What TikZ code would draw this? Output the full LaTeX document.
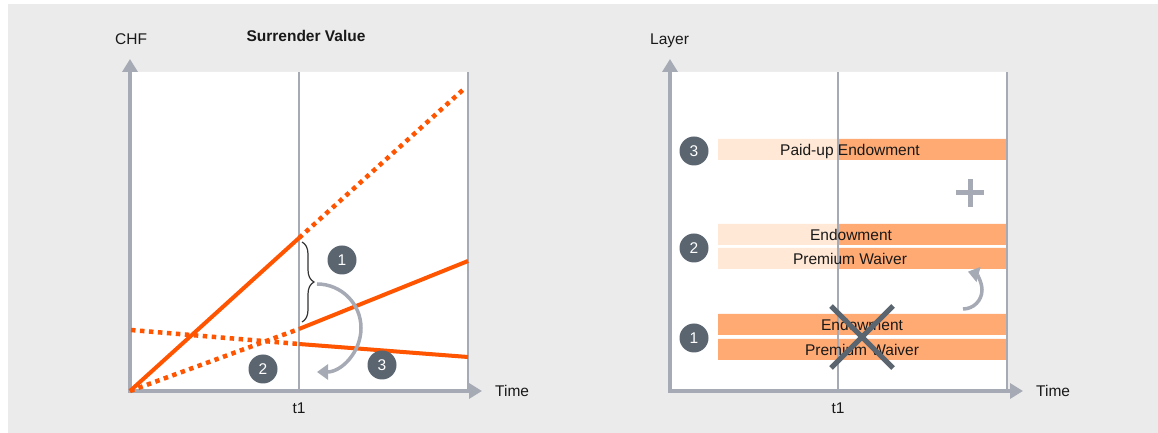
\documentclass[tikz,border=0pt]{standalone}
\usepackage{fontspec}
\setmainfont{Liberation Sans}
\usetikzlibrary{arrows.meta,decorations.pathreplacing}

\definecolor{panelgray}{HTML}{EBEBEB}
\definecolor{axisgray}{HTML}{A6AAB4}
\definecolor{svorange}{HTML}{FF5400}
\definecolor{layerdark}{HTML}{FFAA72}
\definecolor{layerlight}{HTML}{FFE8D6}
\definecolor{markgray}{HTML}{5A6570}

\tikzset{
  axis/.style={axisgray,line width=4pt,{Triangle[width=15pt,length=13pt]}-{Triangle[width=15pt,length=13pt]}},
  gridline/.style={axisgray,line width=1.6pt},
  sv/.style={svorange,line width=4pt},
  svdots/.style={svorange,line width=4.5pt,dash pattern=on 4.5pt off 4.5pt},
  num/.style={circle,fill=markgray,text=white,minimum size=29pt,inner sep=0pt},
  turn/.style={axisgray,line width=3.5pt,-{Triangle[width=15pt,length=11pt]}},
  lbl/.style={anchor=base,inner sep=0pt,text=black!90},
}

\begin{document}
\begin{tikzpicture}[x=1pt,y=1pt,font=\fontsize{15.5}{18}\selectfont]
    \useasboundingbox (0,0) rectangle (1158,433);
    \fill[panelgray] (8,0) rectangle (1158,429);
    \fill[white] (131,42) rectangle (467,361)
                 (671,42) rectangle (1007,361);

    \scope
    \draw[axis] (130,374) -- (130,42) -- (482,42);
    \draw[gridline] (299,42) -- (299,361) (468,42) -- (468,361);
    \node[lbl,anchor=base west] (chf) at (115,388) {CHF};
    \node[lbl,font=\fontsize{15.5}{18}\selectfont\bfseries] (title) at (306,391) {Surrender Value};
    \node[lbl,anchor=base west] (timeL) at (495,36) {Time};
    \node[lbl] (tL) at (299,19) {t1};
    \draw[svdots] (299,195) -- (465,345);
    \draw[svdots] (130,42) -- (299,104);
    \draw[svdots] (131,103) -- (299,89);
    \draw[sv] (130,42) -- (299,195);
    \draw[sv] (299,104) -- (468,172);
    \draw[sv] (299,89) -- (468,76);
    \draw[decorate,decoration={brace,amplitude=12pt},black!80,line width=1.2pt] (302,191) -- (302,111);
    \draw[turn] (317,149) arc[start angle=90,end angle=-90,radius=44];
    \node[num] (sv1) at (342,173) {1};
    \node[num] (sv2) at (263,64) {2};
    \node[num] (sv3) at (382,68) {3};
    \endscope

    \scope
    \fill[layerlight] (718,273) rectangle (838,294) (718,188) rectangle (838,209) (718,164) rectangle (838,185);
    \fill[layerdark] (838,273) rectangle (1007,294) (838,188) rectangle (1007,209) (838,164) rectangle (1007,185)
                     (718,98) rectangle (1007,119) (718,73) rectangle (1007,94);
    \draw[axis] (670,374) -- (670,42) -- (1023,42);
    \draw[gridline] (838,42) -- (838,361) (1007,42) -- (1007,361);
    \node[lbl,anchor=base west] (layer) at (650,388) {Layer};
    \node[lbl,anchor=base west] (timeR) at (1036,36) {Time};
    \node[lbl] (tR) at (838,19) {t1};
    \node[lbl] (paidup) at (850,277) {Paid-up Endowment};
    \node[lbl] (endow2) at (851,192) {Endowment};
    \node[lbl] (waiver2) at (850,168) {Premium Waiver};
    \node[lbl] (endow1) at (862,102) {Endowment};
    \node[lbl] (waiver1) at (862,77) {Premium Waiver};
    \draw[markgray,line width=5pt] (831,127) -- (893,65) (831,65) -- (893,127);
    \draw[axisgray,line width=5pt] (956,240) -- (984,240) (970,226) -- (970,254);
    \draw[turn] (963,124) arc[start angle=-90,end angle=75,radius=19];
    \node[num] (layer3) at (694,282) {3};
    \node[num] (layer2) at (694,185) {2};
    \node[num] (layer1) at (694,95) {1};
    \endscope
\end{tikzpicture}
\end{document}
